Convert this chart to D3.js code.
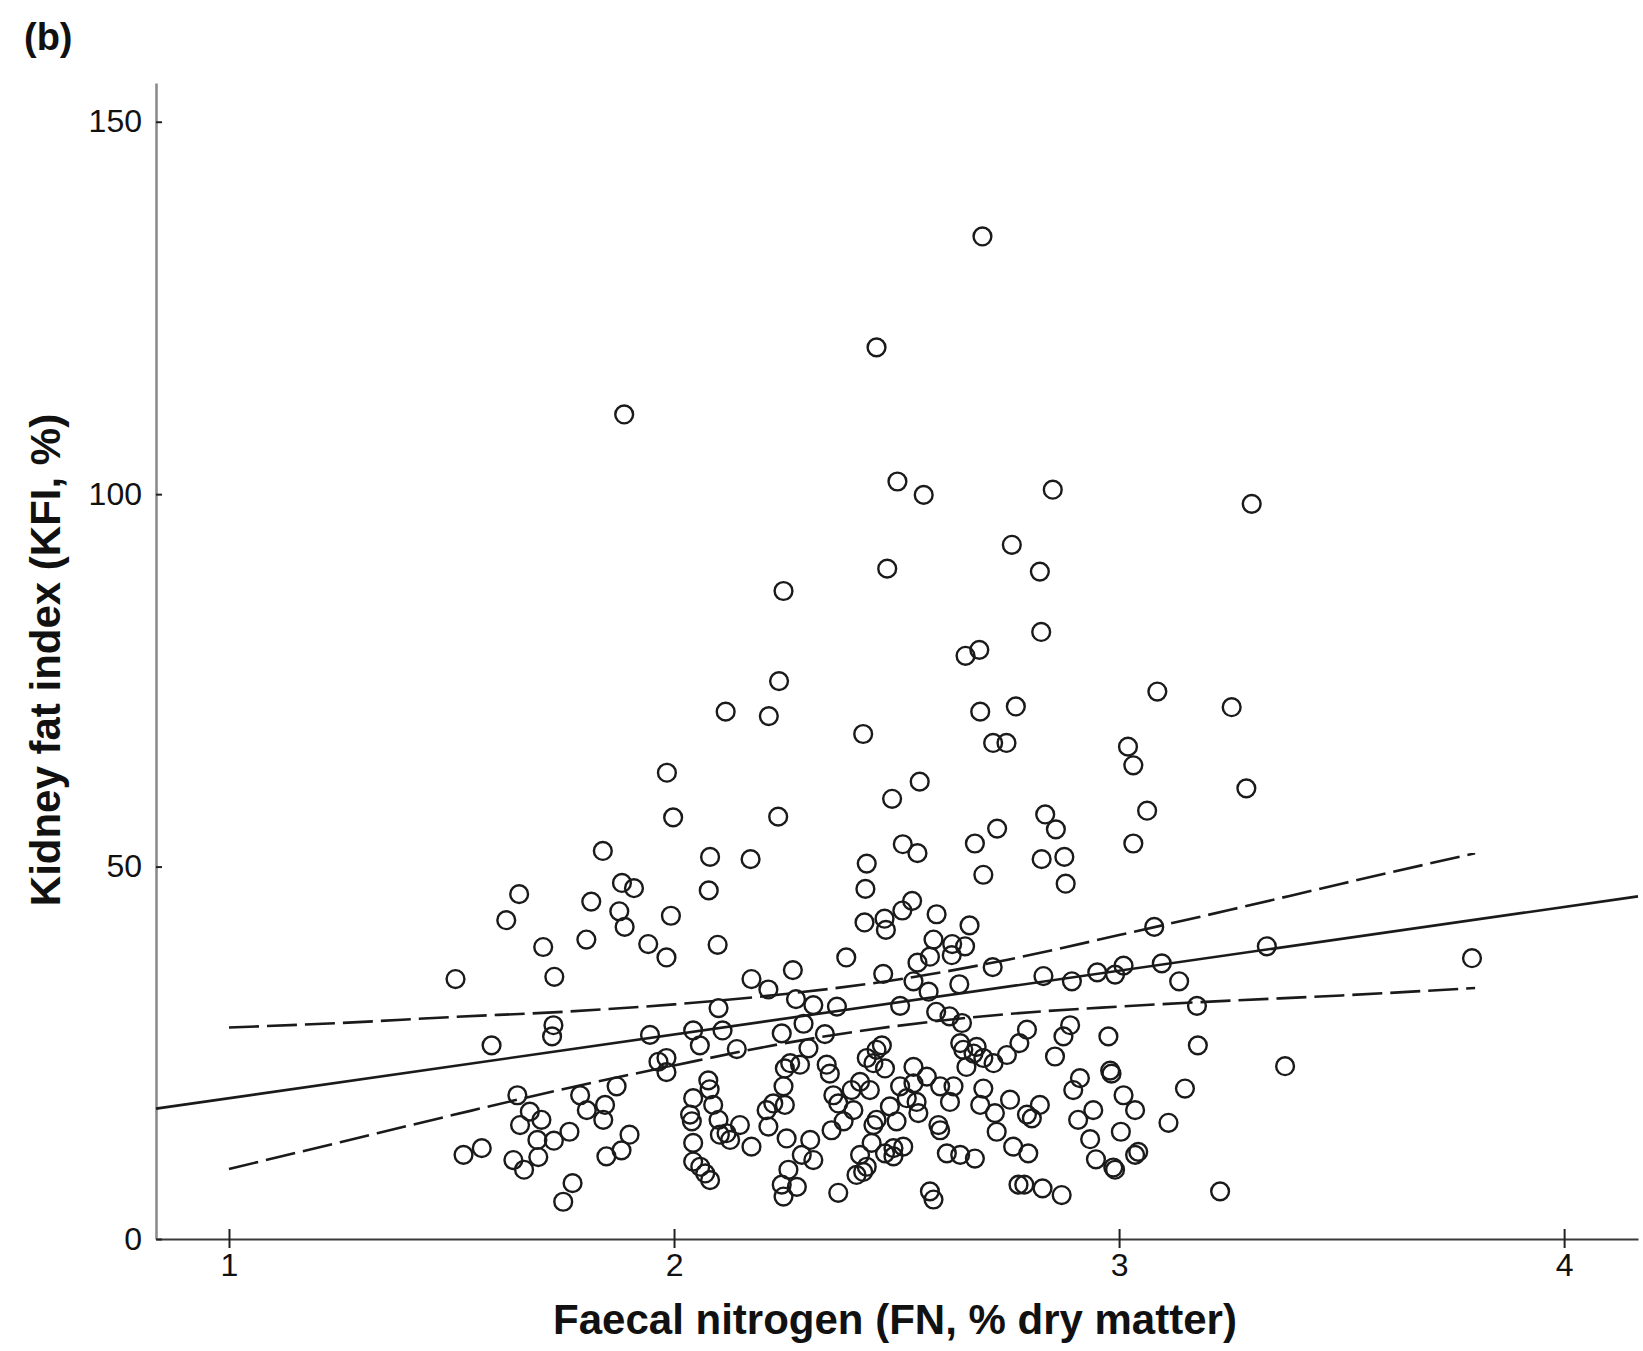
<!DOCTYPE html>
<html>
<head>
<meta charset="utf-8">
<script src="https://cdn.jsdelivr.net/npm/d3@7"></script>
<style>
  body { margin: 0; background: #fff; }
  svg { display: block; font-family: "Liberation Sans", Arial, Helvetica, sans-serif; }
</style>
</head>
<body>
<script>
// FN (% dry matter) vs KFI (%)
var points = [
  [2.693,134.6],[2.455,119.7],[1.888,110.7],[2.502,101.7],[2.561,99.9],[2.851,100.6],[3.298,98.7],
  [2.759,93.2],[2.479,90.0],[2.822,89.6],[2.246,87.0],[2.825,81.5],[2.655,78.3],[2.686,79.1],
  [2.236,74.9],[3.086,73.5],[2.116,70.8],[2.213,70.2],[2.688,70.8],[2.768,71.5],[3.253,71.4],
  [2.425,67.8],[2.717,66.6],[2.747,66.6],[3.020,66.1],[3.032,63.6],[1.984,62.6],[2.552,61.4],
  [3.286,60.5],[2.490,59.1],[3.063,57.5],[1.998,56.6],[2.234,56.7],[2.834,57.0],[2.726,55.1],
  [2.858,55.0],
  [1.840,52.1],[2.081,51.3],[1.652,46.3],[1.883,47.8],[1.910,47.1],[2.078,46.8],[1.814,45.3],
  [1.623,42.8],[1.877,44.0],[1.889,41.9],[1.993,43.4],[1.706,39.2],[1.803,40.2],[1.942,39.6],
  [1.983,37.8],[2.098,39.5],[1.509,34.9],[1.731,35.2],[2.100,31.0],[1.729,28.7],[1.726,27.2],
  [1.590,26.0],[1.946,27.4],[2.043,28.0],[2.058,26.0],[2.109,28.0],
  [2.514,53.0],[2.547,51.8],[2.676,53.1],[2.172,51.0],[2.433,50.4],[2.695,48.9],[2.430,47.0],
  [2.535,45.4],[2.513,44.1],[2.473,43.0],[2.428,42.5],[2.476,41.5],[2.590,43.6],[2.664,42.1],
  [2.387,37.8],[2.583,40.2],[2.625,39.6],[2.654,39.3],[2.624,38.1],[2.267,36.1],[2.174,34.9],
  [2.212,33.5],[2.470,35.6],[2.547,37.1],[2.575,37.9],[2.716,36.5],[2.538,34.6],[2.641,34.2],
  [2.572,33.2],[2.274,32.2],[2.313,31.4],[2.366,31.2],[2.508,31.3],[2.589,30.5],[2.619,29.9],
  [2.647,29.0],[2.291,28.9],[2.242,27.6],[2.339,27.5],[2.467,26.0],[2.141,25.5],[2.643,26.3],
  [2.680,25.8],[2.302,25.6],
  [3.032,53.1],[2.826,51.0],[2.877,51.3],[2.880,47.7],[3.079,41.9],[3.332,39.3],[2.830,35.3],
  [2.894,34.6],[2.951,35.8],[2.991,35.5],[3.010,36.7],[3.096,37.0],[3.135,34.6],[3.175,31.3],
  [2.793,28.1],[2.776,26.3],[2.890,28.7],[2.875,27.2],[2.976,27.2],[3.177,26.0],
  [1.965,23.8],[1.983,24.3],[1.983,22.4],[1.648,19.3],[1.676,17.1],[1.702,16.0],[1.654,15.3],
  [1.693,13.3],[1.730,13.2],[1.765,14.4],[1.527,11.3],[1.568,12.2],[1.639,10.6],[1.663,9.3],
  [1.695,11.0],[1.789,19.3],[1.804,17.3],[1.841,16.0],[1.845,18.0],[1.871,20.5],[1.900,14.0],
  [1.882,11.9],[1.848,11.1],[1.772,7.5],[1.751,5.0],[2.043,18.9],[2.077,21.3],[2.080,20.1],
  [2.088,18.0],[2.036,16.7],[2.040,15.8],[2.100,16.0],[2.103,14.0],[2.043,12.9],[2.043,10.4],
  [2.059,9.7],[2.070,8.8],[2.081,7.9],
  [2.261,23.6],[2.249,22.9],[2.283,23.4],[2.343,23.4],[2.350,22.2],[2.246,20.5],[2.249,18.0],
  [2.223,18.2],[2.208,17.3],[2.212,15.1],[2.148,15.3],[2.118,14.2],[2.126,13.3],[2.174,12.4],
  [2.253,13.5],[2.306,13.3],[2.287,11.3],[2.313,10.6],[2.257,9.3],[2.242,7.3],[2.276,7.0],
  [2.246,5.7],[2.369,6.2],[2.358,19.3],[2.369,18.2],[2.399,20.0],[2.418,21.1],[2.440,20.0],
  [2.403,17.3],[2.381,15.8],[2.354,14.6],[2.433,24.3],[2.455,25.4],[2.474,22.9],[2.448,23.6],
  [2.455,16.0],[2.448,15.3],[2.500,15.8],[2.485,17.8],[2.444,12.9],[2.418,11.3],[2.410,8.6],
  [2.425,9.0],[2.433,9.7],[2.474,11.5],[2.493,12.2],[2.515,12.4],[2.493,11.1],[2.508,20.5],
  [2.538,23.1],[2.538,20.9],[2.568,21.8],[2.523,18.9],[2.545,18.4],[2.549,16.9],[2.598,20.5],
  [2.628,20.5],[2.620,18.4],[2.594,15.3],[2.598,14.6],[2.613,11.5],[2.643,11.3],[2.676,10.8],
  [2.575,6.4],[2.583,5.3],[2.650,25.4],[2.673,24.9],[2.695,24.3],[2.657,23.1],[2.718,23.6],
  [2.748,24.7],[2.695,20.2],[2.688,18.0],[2.721,16.9],[2.755,18.7],[2.725,14.4],[2.762,12.4],
  [2.774,7.3],
  [2.856,24.5],[3.373,23.2],[2.983,22.2],[2.980,22.6],[2.912,21.6],[2.897,20.0],[3.148,20.2],
  [3.010,19.3],[3.036,17.3],[2.942,17.3],[2.908,16.0],[2.822,18.0],[2.793,16.7],[2.804,16.2],
  [3.111,15.6],[3.004,14.4],[2.935,13.4],[2.796,11.5],[3.043,11.7],[3.036,11.3],[2.948,10.7],
  [2.991,9.3],[2.987,9.6],[2.787,7.3],[2.828,6.8],[2.871,5.9],[3.227,6.4],
  [3.793,37.7]
];

// fitted line and its confidence band
var fitX = [0.836, 4.166];
var fitY = [17.5, 46.0];
var bandX     = [1.0, 1.25, 1.5, 1.75, 2.0, 2.25, 2.5, 2.75, 3.0, 3.25, 3.5, 3.8];
var bandLower = [9.4, 13.0, 16.6, 20.1, 23.3, 26.3, 28.6, 30.2, 31.2, 32.0, 32.7, 33.7];
var bandUpper = [28.4, 29.0, 29.8, 30.5, 31.5, 32.9, 34.8, 37.5, 40.8, 44.2, 47.7, 51.8];

var xTicks = [1, 2, 3, 4];
var yTicks = [0, 50, 100, 150];
var panelLabel = "(b)";
var xTitle = "Faecal nitrogen (FN, % dry matter)";
var yTitle = "Kidney fat index (KFI, %)";

var width = 1643, height = 1351;
var x = d3.scaleLinear().domain([0.836, 4.166]).range([156, 1638]);
var y = d3.scaleLinear().domain([0, 155.2]).range([1239, 83]);

var svg = d3.select("body").append("svg")
  .attr("width", width)
  .attr("height", height);

// axes
var gx = svg.append("g")
  .attr("transform", "translate(0," + y(0) + ")")
  .call(d3.axisBottom(x).tickValues(xTicks).tickFormat(d3.format("d"))
    .tickSize(9).tickSizeOuter(0).tickPadding(5));
gx.select(".domain").attr("stroke", "#3a3a3a").attr("stroke-width", 2);
gx.selectAll(".tick line").attr("y1", -10).attr("stroke", "#222").attr("stroke-width", 2);
gx.selectAll(".tick text").attr("font-size", 32).attr("fill", "#111")
  .attr("font-family", "'Liberation Sans', Arial, sans-serif");

var gy = svg.append("g")
  .attr("transform", "translate(" + x.range()[0] + ",0)")
  .call(d3.axisLeft(y).tickValues(yTicks).tickSize(11).tickSizeOuter(0).tickPadding(3));
gy.select(".domain").attr("stroke", "#8c8c8c").attr("stroke-width", 2.6);
gy.selectAll(".tick line").attr("x2", 6).attr("stroke", "#222").attr("stroke-width", 2);
gy.selectAll(".tick text").attr("font-size", 32).attr("fill", "#111")
  .attr("font-family", "'Liberation Sans', Arial, sans-serif");

// regression line + dashed band
var line = d3.line()
  .x(function (d) { return x(d[0]); })
  .y(function (d) { return y(d[1]); });
var curve = d3.line()
  .curve(d3.curveMonotoneX)
  .x(function (d) { return x(d[0]); })
  .y(function (d) { return y(d[1]); });

svg.append("path")
  .datum(fitX.map(function (v, i) { return [v, fitY[i]]; }))
  .attr("d", line)
  .attr("fill", "none").attr("stroke", "#1a1a1a").attr("stroke-width", 2.6);

[bandLower, bandUpper].forEach(function (b) {
  svg.append("path")
    .datum(bandX.map(function (v, i) { return [v, b[i]]; }))
    .attr("d", curve)
    .attr("fill", "none").attr("stroke", "#1a1a1a").attr("stroke-width", 2.6)
    .attr("stroke-dasharray", "30,8");
});

// points
svg.append("g").selectAll("circle")
  .data(points)
  .enter().append("circle")
  .attr("cx", function (d) { return x(d[0]); })
  .attr("cy", function (d) { return y(d[1]); })
  .attr("r", 8.9)
  .attr("fill", "none")
  .attr("stroke", "#1a1a1a")
  .attr("stroke-width", 2.4);

// labels
svg.append("text")
  .attr("x", 24).attr("y", 50)
  .attr("font-size", 38).attr("font-weight", "bold").attr("fill", "#111")
  .text(panelLabel);

svg.append("text")
  .attr("x", 895).attr("y", 1334)
  .attr("text-anchor", "middle")
  .attr("font-size", 42).attr("font-weight", "bold").attr("fill", "#111")
  .text(xTitle);

svg.append("text")
  .attr("transform", "translate(60,660) rotate(-90)")
  .attr("text-anchor", "middle")
  .attr("font-size", 42).attr("font-weight", "bold").attr("fill", "#111")
  .text(yTitle);
</script>
</body>
</html>
